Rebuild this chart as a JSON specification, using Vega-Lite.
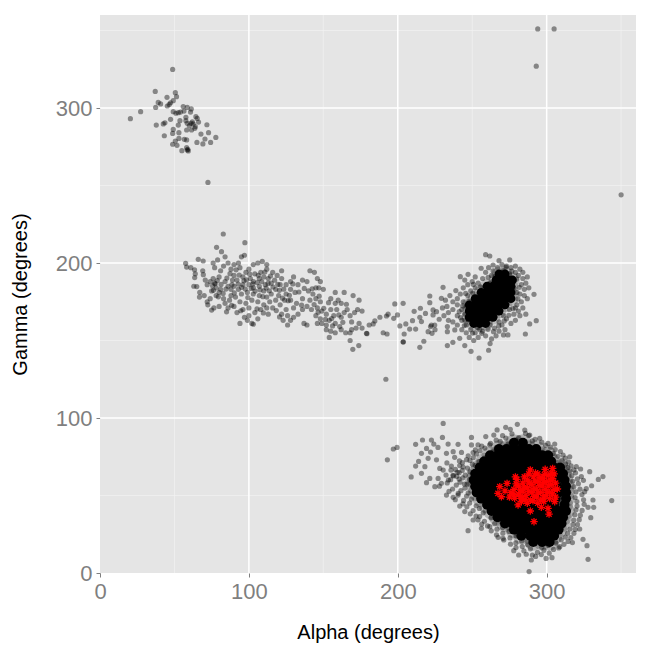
{"$schema":"https://vega.github.io/schema/vega-lite/v6.json","width":536,"height":558,"autosize":"none","padding":{"left":100,"top":15,"right":14,"bottom":77},"background":"white","config":{"view":{"fill":"#e5e5e5","stroke":null},"font":"Liberation Sans"},
"datasets":{
"gridMinor":[{"v":50},{"v":150},{"v":250},{"v":350}],
"gridMajor":[{"v":100},{"v":200},{"v":300}],
"coreA":[{"a":278,"g":84},{"a":284,"g":84},{"a":268,"g":80},{"a":273,"g":80},{"a":278,"g":80},{"a":283,"g":80},{"a":288,"g":80},{"a":293,"g":80},{"a":262,"g":76},{"a":267,"g":76},{"a":272,"g":76},{"a":277,"g":76},{"a":282,"g":76},{"a":287,"g":76},{"a":292,"g":76},{"a":297,"g":76},{"a":301,"g":76},{"a":258,"g":72},{"a":263,"g":72},{"a":268,"g":72},{"a":273,"g":72},{"a":278,"g":72},{"a":283,"g":72},{"a":288,"g":72},{"a":293,"g":72},{"a":298,"g":72},{"a":303,"g":72},{"a":255,"g":68},{"a":260,"g":68},{"a":265,"g":68},{"a":270,"g":68},{"a":275,"g":68},{"a":280,"g":68},{"a":285,"g":68},{"a":290,"g":68},{"a":295,"g":68},{"a":300,"g":68},{"a":305,"g":68},{"a":309,"g":68},{"a":252,"g":64},{"a":257,"g":64},{"a":262,"g":64},{"a":267,"g":64},{"a":272,"g":64},{"a":277,"g":64},{"a":282,"g":64},{"a":287,"g":64},{"a":292,"g":64},{"a":297,"g":64},{"a":302,"g":64},{"a":307,"g":64},{"a":311,"g":64},{"a":251,"g":60},{"a":256,"g":60},{"a":261,"g":60},{"a":266,"g":60},{"a":271,"g":60},{"a":276,"g":60},{"a":281,"g":60},{"a":286,"g":60},{"a":291,"g":60},{"a":296,"g":60},{"a":301,"g":60},{"a":306,"g":60},{"a":312,"g":60},{"a":252,"g":56},{"a":257,"g":56},{"a":262,"g":56},{"a":267,"g":56},{"a":272,"g":56},{"a":277,"g":56},{"a":282,"g":56},{"a":287,"g":56},{"a":292,"g":56},{"a":297,"g":56},{"a":302,"g":56},{"a":307,"g":56},{"a":313,"g":56},{"a":253,"g":52},{"a":258,"g":52},{"a":263,"g":52},{"a":268,"g":52},{"a":273,"g":52},{"a":278,"g":52},{"a":283,"g":52},{"a":288,"g":52},{"a":293,"g":52},{"a":298,"g":52},{"a":303,"g":52},{"a":308,"g":52},{"a":313,"g":52},{"a":256,"g":48},{"a":261,"g":48},{"a":266,"g":48},{"a":271,"g":48},{"a":276,"g":48},{"a":281,"g":48},{"a":286,"g":48},{"a":291,"g":48},{"a":296,"g":48},{"a":301,"g":48},{"a":306,"g":48},{"a":313,"g":48},{"a":260,"g":44},{"a":265,"g":44},{"a":270,"g":44},{"a":275,"g":44},{"a":280,"g":44},{"a":285,"g":44},{"a":290,"g":44},{"a":295,"g":44},{"a":300,"g":44},{"a":305,"g":44},{"a":312,"g":44},{"a":263,"g":40},{"a":268,"g":40},{"a":273,"g":40},{"a":278,"g":40},{"a":283,"g":40},{"a":288,"g":40},{"a":293,"g":40},{"a":298,"g":40},{"a":303,"g":40},{"a":308,"g":40},{"a":313,"g":40},{"a":267,"g":36},{"a":272,"g":36},{"a":277,"g":36},{"a":282,"g":36},{"a":287,"g":36},{"a":292,"g":36},{"a":297,"g":36},{"a":302,"g":36},{"a":307,"g":36},{"a":311,"g":36},{"a":272,"g":32},{"a":277,"g":32},{"a":282,"g":32},{"a":287,"g":32},{"a":292,"g":32},{"a":297,"g":32},{"a":302,"g":32},{"a":307,"g":32},{"a":310,"g":32},{"a":278,"g":28},{"a":283,"g":28},{"a":288,"g":28},{"a":293,"g":28},{"a":298,"g":28},{"a":303,"g":28},{"a":308,"g":28},{"a":283,"g":24},{"a":289,"g":24},{"a":294,"g":24},{"a":299,"g":24},{"a":305,"g":24},{"a":291,"g":20},{"a":297,"g":20},{"a":302,"g":20}],
"coreB":[{"a":268,"g":193},{"a":272,"g":193},{"a":266,"g":189},{"a":270,"g":189},{"a":274,"g":189},{"a":277,"g":189},{"a":260,"g":185},{"a":264,"g":185},{"a":268,"g":185},{"a":272,"g":185},{"a":276,"g":185},{"a":256,"g":181},{"a":260,"g":181},{"a":264,"g":181},{"a":268,"g":181},{"a":272,"g":181},{"a":276,"g":181},{"a":252,"g":177},{"a":256,"g":177},{"a":260,"g":177},{"a":264,"g":177},{"a":268,"g":177},{"a":272,"g":177},{"a":276,"g":177},{"a":248,"g":173},{"a":252,"g":173},{"a":256,"g":173},{"a":260,"g":173},{"a":264,"g":173},{"a":268,"g":173},{"a":272,"g":173},{"a":248,"g":169},{"a":252,"g":169},{"a":256,"g":169},{"a":260,"g":169},{"a":264,"g":169},{"a":268,"g":169},{"a":248,"g":165},{"a":252,"g":165},{"a":256,"g":165},{"a":260,"g":165},{"a":264,"g":165},{"a":251,"g":161},{"a":255,"g":161},{"a":259,"g":161}],
"points":[
{"a":294,"g":351},{"a":305,"g":351},{"a":293,"g":327},{"a":350,"g":244},{"a":192,"g":125},{"a":72.5,"g":252},
{"a":48.8,"g":324.9},{"a":37.1,"g":310.7},{"a":50.6,"g":309.9},{"a":45,"g":306.9},{"a":51.4,"g":307.3},{"a":39.1,"g":303.6},{"a":40.7,"g":302.6},{"a":49.2,"g":304.7},{"a":47.4,"g":303.4},{"a":46.5,"g":302.3},{"a":45.2,"g":301.3},{"a":37.4,"g":300.4},{"a":27.3,"g":297.6},{"a":20.4,"g":293.1},{"a":55.9,"g":300.9},{"a":58.6,"g":300.4},{"a":61.3,"g":299.4},{"a":60.8,"g":297.4},{"a":49.2,"g":297.6},{"a":51,"g":296.6},{"a":52.6,"g":297},{"a":54.1,"g":297.4},{"a":56.4,"g":298},{"a":64.4,"g":294.4},{"a":65.3,"g":293.3},{"a":57.7,"g":294},{"a":47.4,"g":292.7},{"a":43.6,"g":290.5},{"a":42.5,"g":289.7},{"a":37.8,"g":289},{"a":53.7,"g":291.8},{"a":57.7,"g":291.8},{"a":58.6,"g":290.1},{"a":61.1,"g":290.1},{"a":62.6,"g":289.7},{"a":66.2,"g":290.9},{"a":71.8,"g":289.2},{"a":52.6,"g":289},{"a":49.2,"g":286.2},{"a":48.8,"g":283.6},{"a":53,"g":284.1},{"a":58.2,"g":285.8},{"a":61.5,"g":285.8},{"a":63.7,"g":286.9},{"a":67.8,"g":283.2},{"a":72.9,"g":284.1},{"a":43.2,"g":282.1},{"a":53,"g":280.4},{"a":56.6,"g":279.8},{"a":58.2,"g":279.4},{"a":77.8,"g":281},{"a":70.5,"g":280},{"a":65.1,"g":277.8},{"a":69.1,"g":276.8},{"a":74.3,"g":277.8},{"a":50.6,"g":278.7},{"a":48.8,"g":276.6},{"a":51.7,"g":275.9},{"a":58.2,"g":274.4},{"a":58.6,"g":272.9},{"a":55,"g":272.5},{"a":59.3,"g":272.3},{"a":59,"g":273.4},{"a":62,"g":291},{"a":60,"g":288.5},{"a":64,"g":288},
{"a":82.8,"g":218.7},{"a":97.3,"g":213.1},{"a":78.3,"g":210.1},{"a":81.6,"g":207.3},{"a":57.5,"g":199.8},{"a":66,"g":202.4},{"a":69.3,"g":201.3},{"a":58.2,"g":197.4},{"a":61,"g":197},{"a":63.5,"g":195.6},{"a":64,"g":193},{"a":63.6,"g":190.6},{"a":69,"g":195},{"a":69.4,"g":192.5},{"a":70.7,"g":189},{"a":63,"g":185},{"a":65,"g":184.8},{"a":72,"g":186},{"a":74,"g":188},{"a":76,"g":190},{"a":77,"g":187},{"a":78,"g":184},{"a":75,"g":182},{"a":67,"g":181},{"a":66.8,"g":178},{"a":70,"g":179},{"a":74,"g":177},{"a":78,"g":179},{"a":72,"g":175},{"a":72.4,"g":173},{"a":76.5,"g":171},{"a":75,"g":169.6},{"a":80,"g":172},{"a":84,"g":174},{"a":83,"g":177},{"a":87,"g":176},{"a":88,"g":179},{"a":80,"g":181},{"a":81,"g":183},{"a":86,"g":185},{"a":88,"g":183},{"a":84,"g":188},{"a":80,"g":191},{"a":81,"g":195},{"a":77,"g":197},{"a":76,"g":200},{"a":79,"g":202},{"a":84,"g":204},{"a":86,"g":200},{"a":83,"g":198},{"a":88,"g":196},{"a":90,"g":199},{"a":93,"g":200},{"a":95,"g":204},{"a":97,"g":205},{"a":94,"g":197},{"a":90,"g":192},{"a":92,"g":189},{"a":96,"g":191},{"a":98,"g":194},{"a":100,"g":196},{"a":103,"g":199},{"a":106,"g":200},{"a":109,"g":201},{"a":112,"g":199},{"a":112,"g":196},{"a":108,"g":194},{"a":104,"g":193},{"a":101,"g":190},{"a":103,"g":188},{"a":107,"g":190},{"a":110,"g":191},{"a":113,"g":190},{"a":115,"g":187},{"a":111,"g":186},{"a":107,"g":185},{"a":103,"g":184},{"a":100,"g":186},{"a":96,"g":186},{"a":93,"g":183},{"a":90,"g":185},{"a":89,"g":189},{"a":91,"g":178},{"a":95,"g":180},{"a":99,"g":181},{"a":103,"g":180},{"a":107,"g":179},{"a":110,"g":182},{"a":112,"g":178},{"a":115,"g":180},{"a":118,"g":183},{"a":121,"g":186},{"a":120,"g":179},{"a":118,"g":176},{"a":114,"g":175},{"a":110,"g":173},{"a":106,"g":175},{"a":102,"g":176},{"a":98,"g":174},{"a":94,"g":175},{"a":90,"g":172},{"a":86,"g":171},{"a":92,"g":168},{"a":96,"g":170},{"a":100,"g":171},{"a":104,"g":168},{"a":100,"g":166},{"a":97,"g":165},{"a":102,"g":161},{"a":103,"g":160.5},{"a":94,"g":161},{"a":106,"g":164},{"a":112,"g":171},{"a":108,"g":170},{"a":113,"g":167},{"a":116,"g":171},{"a":121,"g":173},{"a":124,"g":176},{"a":125,"g":180},{"a":128,"g":183},{"a":125,"g":186},{"a":128,"g":188},{"a":122,"g":190},{"a":119,"g":192},{"a":116,"g":194},{"a":122,"g":195},{"a":130,"g":191},{"a":133,"g":186},{"a":136,"g":189},{"a":139,"g":188},{"a":141,"g":195},{"a":144,"g":194},{"a":146,"g":190},{"a":148,"g":188},{"a":147,"g":184},{"a":145,"g":184},{"a":150,"g":183},{"a":131,"g":181},{"a":128,"g":176},{"a":132,"g":174},{"a":136,"g":177},{"a":130,"g":171},{"a":125,"g":170},{"a":122,"g":167},{"a":126,"g":166},{"a":130,"g":165},{"a":133,"g":167},{"a":123,"g":163},{"a":126,"g":160},{"a":128,"g":163},{"a":137,"g":161},{"a":136,"g":170},{"a":139,"g":172},{"a":141,"g":176},{"a":143,"g":180},{"a":140,"g":182},{"a":145,"g":177},{"a":148,"g":175},{"a":142,"g":170},{"a":146,"g":171},{"a":149,"g":169},{"a":145,"g":166},{"a":148,"g":164},{"a":152,"g":167},{"a":154,"g":163},{"a":152,"g":160},{"a":146,"g":161},{"a":149,"g":161},{"a":155,"g":170},{"a":157,"g":166},{"a":159,"g":170},{"a":162,"g":165},{"a":158,"g":161},{"a":161,"g":159},{"a":162,"g":174},{"a":166,"g":170},{"a":164,"g":168},{"a":168,"g":166},{"a":171,"g":168},{"a":173,"g":170},{"a":176,"g":169},{"a":169,"g":162},{"a":174,"g":161},{"a":176,"g":158},{"a":172,"g":158},{"a":169,"g":157},{"a":158,"g":174},{"a":155,"g":177},{"a":158,"g":181},{"a":164,"g":181},{"a":170,"g":179},{"a":174,"g":176},{"a":160,"g":176},{"a":139,"g":160},{"a":152,"g":157},{"a":155,"g":156},{"a":158,"g":155},{"a":162,"g":157},{"a":165,"g":155},{"a":168,"g":155},{"a":154,"g":152},
{"a":75.6,"g":185.3},{"a":76.2,"g":182.4},{"a":77.4,"g":186.6},{"a":78.8,"g":188.7},{"a":79.5,"g":178.2},{"a":81.3,"g":186.2},{"a":82.7,"g":180.4},{"a":84.6,"g":183.2},{"a":85.2,"g":190.3},{"a":87.3,"g":193.1},{"a":88.6,"g":186.1},{"a":90.2,"g":180.7},{"a":91.4,"g":195.6},{"a":92.8,"g":186.4},{"a":93.5,"g":192.2},{"a":95.1,"g":184.3},{"a":96.7,"g":188.5},{"a":97.6,"g":183.2},{"a":98.4,"g":189.1},{"a":99.3,"g":177.7},{"a":100.6,"g":192.8},{"a":101.5,"g":183.6},{"a":102.7,"g":186.5},{"a":104.2,"g":181.9},{"a":105.6,"g":187.4},{"a":106.3,"g":192.1},{"a":107.5,"g":182.7},{"a":108.6,"g":188},{"a":109.4,"g":178.3},{"a":110.7,"g":194.2},{"a":111.6,"g":183.8},{"a":112.9,"g":186.8},{"a":113.7,"g":182.1},{"a":114.5,"g":191.6},{"a":116.2,"g":184.5},{"a":117.3,"g":188.9},{"a":119.4,"g":186.2},{"a":120.5,"g":182.4},{"a":122.6,"g":177.3},{"a":123.4,"g":183.1},{"a":126.4,"g":175.7},{"a":127.2,"g":179.2},{"a":129.5,"g":186.5},{"a":133.6,"g":181.3},{"a":135.4,"g":172.8},{"a":137.2,"g":183.6},{"a":142.5,"g":183.4},{"a":143.8,"g":173.2},{"a":146.5,"g":168.3},{"a":147.2,"g":178.6},{"a":150.3,"g":170.8},{"a":151.4,"g":163.6},{"a":153.5,"g":174.4},{"a":155.6,"g":164.2},{"a":156.2,"g":159.4},{"a":160.4,"g":166.5},{"a":163.1,"g":161.7},{"a":165.5,"g":173.4},{"a":88.4,"g":172.7},{"a":94.6,"g":169.2},{"a":105.4,"g":170.4},{"a":109.7,"g":167.8},{"a":118.4,"g":169.3},{"a":120.6,"g":165.2},{"a":99,"g":163},{"a":85,"g":168.5},
{"a":198,"g":173.6},{"a":203.6,"g":174},{"a":193.5,"g":167},{"a":188,"g":165},{"a":199.8,"g":166.5},{"a":197.3,"g":164.3},{"a":192.4,"g":165.8},{"a":184.6,"g":162.6},{"a":180.8,"g":160},{"a":183.5,"g":160.7},{"a":190.2,"g":155},{"a":192.8,"g":154.2},{"a":179,"g":154.6},{"a":179.3,"g":154.4},{"a":168,"g":150},{"a":173.8,"g":146.7},{"a":169.8,"g":144.3},{"a":201.4,"g":159.4},{"a":204.3,"g":154.2},{"a":203.6,"g":149},{"a":203.7,"g":149.2},{"a":214.8,"g":145.6},{"a":217.5,"g":149.5},{"a":205.4,"g":160.7},{"a":208,"g":157.4},{"a":212,"g":157.4},{"a":209.9,"g":162.8},{"a":211,"g":168.8},{"a":215.2,"g":170.8},{"a":214.8,"g":165},{"a":218.6,"g":167.5},{"a":215.9,"g":162.2},{"a":220.4,"g":155.7},{"a":223,"g":154.6},{"a":222.6,"g":160},{"a":224.8,"g":160},{"a":223.7,"g":169.7},{"a":226,"g":168.6},{"a":223.7,"g":166.5},{"a":227.8,"g":163.7},{"a":233.3,"g":159},{"a":233.3,"g":155.7},{"a":238.3,"g":156.8},{"a":221.5,"g":178.7},{"a":221.5,"g":174.4},{"a":222,"g":159},{"a":225,"g":157},
{"a":259,"g":205.4},{"a":261.8,"g":204.5},{"a":268,"g":201.5},{"a":275.2,"g":202},{"a":291.5,"g":179.8},{"a":293,"g":162.8},{"a":288.6,"g":160.7},{"a":285.7,"g":154.2},{"a":274,"g":153.6},{"a":271,"g":153.6},{"a":261,"g":143.7},{"a":254.6,"g":138.7},{"a":249.2,"g":143},{"a":245,"g":146.7},{"a":237,"g":148.8},{"a":233.3,"g":146.7},{"a":241.6,"g":151.4},{"a":230.4,"g":184.3},{"a":229.3,"g":177.2},{"a":239,"g":182.2},{"a":242,"g":191.2},{"a":247.2,"g":192.7},{"a":245,"g":189},{"a":256,"g":196.6},{"a":264,"g":198.7},
{"a":232,"g":176},{"a":235,"g":179},{"a":237,"g":175},{"a":240,"g":177},{"a":242,"g":180},{"a":244,"g":184},{"a":247,"g":186},{"a":250,"g":188},{"a":252,"g":191},{"a":254,"g":187},{"a":257,"g":190},{"a":259,"g":194},{"a":261,"g":197},{"a":264,"g":195},{"a":267,"g":197},{"a":270,"g":199},{"a":273,"g":198},{"a":276,"g":197},{"a":279,"g":198},{"a":282,"g":196},{"a":284,"g":194},{"a":281,"g":192},{"a":284,"g":190},{"a":287,"g":191},{"a":286,"g":187},{"a":283,"g":186},{"a":285,"g":183},{"a":288,"g":184},{"a":282,"g":180},{"a":285,"g":179},{"a":287,"g":177},{"a":283,"g":175},{"a":280,"g":173},{"a":284,"g":171},{"a":281,"g":169},{"a":278,"g":167},{"a":282,"g":166},{"a":286,"g":167},{"a":279,"g":163},{"a":276,"g":161},{"a":273,"g":164},{"a":270,"g":160},{"a":272,"g":157},{"a":268,"g":156},{"a":265,"g":158},{"a":266,"g":153},{"a":263,"g":151},{"a":262,"g":148},{"a":259,"g":153},{"a":257,"g":156},{"a":254,"g":152},{"a":251,"g":150},{"a":248,"g":152},{"a":246,"g":155},{"a":243,"g":157},{"a":240,"g":160},{"a":237,"g":162},{"a":234,"g":163},{"a":231,"g":166},{"a":234,"g":168},{"a":230,"g":171},{"a":233,"g":172},{"a":237,"g":170},{"a":240,"g":166},{"a":243,"g":163},{"a":246,"g":160},{"a":249,"g":157},{"a":252,"g":155},{"a":255,"g":157},{"a":243,"g":170},{"a":240,"g":173},{"a":244,"g":175},{"a":247,"g":179},{"a":249,"g":182},{"a":252,"g":184},{"a":245,"g":167},{"a":246,"g":172},{"a":263,"g":192},{"a":267,"g":193},{"a":271,"g":195},{"a":275,"g":193},{"a":279,"g":194},{"a":262,"g":187},{"a":278,"g":184},{"a":280,"g":181},{"a":277,"g":177},{"a":279,"g":171},{"a":275,"g":170},{"a":271,"g":166},{"a":268,"g":162},{"a":262,"g":160},{"a":245,"g":163},{"a":241.3,"g":168.6},{"a":243.6,"g":172.4},{"a":242.2,"g":164.8},{"a":244.7,"g":159.6},{"a":247.4,"g":163.2},{"a":250.2,"g":154.8},{"a":253.7,"g":158.3},{"a":256.4,"g":154.6},{"a":260.6,"g":157.2},{"a":264.3,"g":155.7},{"a":267.8,"g":159.4},{"a":271.5,"g":162.6},{"a":274.6,"g":166.3},{"a":277.4,"g":170.6},{"a":280.7,"g":176.8},{"a":281.6,"g":184.3},{"a":279.8,"g":189.6},{"a":276.6,"g":194.7},{"a":272.7,"g":197.2},{"a":265.6,"g":191.4},{"a":260.7,"g":190.8},{"a":255.6,"g":184.6},{"a":250.3,"g":180.6},{"a":247.7,"g":175.2},{"a":245.6,"g":180.4},{"a":250.8,"g":186.2},
{"a":230.5,"g":96.5},{"a":230,"g":87.5},{"a":216.6,"g":85.8},{"a":222.6,"g":85.8},{"a":224.2,"g":83.2},{"a":219.3,"g":80.4},{"a":215.9,"g":77.2},{"a":233.8,"g":83.2},{"a":240.5,"g":83},{"a":232.7,"g":77.2},{"a":237.2,"g":78.3},{"a":242.8,"g":77.8},{"a":220.4,"g":74},{"a":218.2,"g":68.6},{"a":228.2,"g":67.5},{"a":230.5,"g":66.4},{"a":215.9,"g":64.3},{"a":221.5,"g":61},{"a":227.1,"g":61},{"a":219.3,"g":58.3},{"a":224.9,"g":55.7},{"a":229.3,"g":57.9},{"a":232.7,"g":50.3},{"a":237.2,"g":48.8},{"a":240.5,"g":50.3},{"a":241.6,"g":43.2},{"a":245,"g":39.6},{"a":250.6,"g":34.2},{"a":247.2,"g":27.3},{"a":256.2,"g":28.8},{"a":255,"g":36.4},{"a":261.8,"g":29.9},{"a":267.4,"g":23},{"a":270.7,"g":22.4},{"a":277.9,"g":14.4},{"a":281.2,"g":11.6},{"a":289.7,"g":8.4},{"a":290.4,"g":11.6},{"a":288.2,"g":0.9},{"a":303.6,"g":9.9},{"a":327.8,"g":8.8},{"a":327.1,"g":17.6},{"a":324.4,"g":21.7},{"a":317.3,"g":19.6},{"a":308.8,"g":17},{"a":322.2,"g":28.4},{"a":329.6,"g":35.7},{"a":327.8,"g":42.4},{"a":331.6,"g":42.4},{"a":331.1,"g":47.1},{"a":343.7,"g":46.7},{"a":337.8,"g":62.2},{"a":334.7,"g":60.4},{"a":330.2,"g":56.3},{"a":328.9,"g":65.4},{"a":323.3,"g":62.2},{"a":325.5,"g":52.5},{"a":319.9,"g":68.6},{"a":315.5,"g":75},{"a":311,"g":76.1},{"a":305.4,"g":83.2},{"a":300.9,"g":83.6},{"a":295.3,"g":86.9},{"a":288.6,"g":89},{"a":285.3,"g":92.2},{"a":280.3,"g":95.9},{"a":275.6,"g":92.7},{"a":272.5,"g":94},{"a":266.7,"g":92.3},{"a":264.5,"g":89},{"a":259.1,"g":88},{"a":249.5,"g":87.5},{"a":249.5,"g":82.6},{"a":253.9,"g":82.6},{"a":193,"g":73},{"a":197,"g":80},{"a":199.5,"g":81},{"a":212,"g":83},{"a":214,"g":72},{"a":209,"g":62},{"a":212,"g":69},{"a":226,"g":73},{"a":233,"g":71},{"a":236,"g":69},{"a":222,"g":78},{"a":227,"g":81},{"a":228,"g":56},{"a":234,"g":60},{"a":237,"g":63},{"a":240,"g":65},{"a":238.2,"g":74.6},{"a":241.4,"g":72.3},{"a":239.6,"g":62.4},{"a":243.3,"g":66.2},{"a":235.7,"g":66.4},{"a":232.4,"g":63.2},{"a":244.8,"g":57.4},{"a":241.2,"g":60.6},
{"a":270.4,"g":88.6},{"a":276.7,"g":89.8},{"a":281.3,"g":87.4},{"a":287.9,"g":88.7},{"a":292.2,"g":86.3},{"a":266.1,"g":85.7},{"a":272.6,"g":87.1},{"a":279.2,"g":85.9},{"a":285.8,"g":90.1},{"a":290.4,"g":85.2},{"a":296.7,"g":84.4},{"a":262.3,"g":83.6},{"a":268.8,"g":84.9},{"a":274.1,"g":83.2},{"a":299.3,"g":82.4},{"a":256.4,"g":81.8},{"a":261.7,"g":82.7},{"a":266.2,"g":80.9},{"a":302.6,"g":81.2},{"a":252.1,"g":79.4},{"a":258.5,"g":80.6},{"a":264.3,"g":78.2},{"a":305.7,"g":79.6},{"a":250.6,"g":77.7},{"a":255.2,"g":78.9},{"a":260.4,"g":76.3},{"a":304.4,"g":77.1},{"a":309.2,"g":78.4},{"a":247.3,"g":75.6},{"a":252.8,"g":76.8},{"a":258.1,"g":74.2},{"a":307.6,"g":75.3},{"a":312.5,"g":74.1},{"a":246.2,"g":73.1},{"a":250.7,"g":74.4},{"a":254.6,"g":71.8},{"a":310.3,"g":72.7},{"a":314.8,"g":71.6},{"a":243.4,"g":71.2},{"a":248.5,"g":72.6},{"a":252.2,"g":69.5},{"a":312.7,"g":70.4},{"a":316.4,"g":69.2},{"a":241.6,"g":69.3},{"a":246.8,"g":67.7},{"a":250.1,"g":70.2},{"a":314.2,"g":68.1},{"a":318.3,"g":66.5},{"a":238.7,"g":66.8},{"a":243.9,"g":68.4},{"a":248.6,"g":65.3},{"a":315.6,"g":65.9},{"a":319.4,"g":64.6},{"a":322.8,"g":67.1},{"a":241.2,"g":64.7},{"a":245.3,"g":63.1},{"a":316.9,"g":62.8},{"a":320.6,"g":60.7},{"a":237.4,"g":62.6},{"a":243.7,"g":61.4},{"a":248.2,"g":60.3},{"a":317.5,"g":59.2},{"a":321.3,"g":57.6},{"a":324.7,"g":59.8},{"a":235.5,"g":60.2},{"a":241.8,"g":58.6},{"a":246.6,"g":57.3},{"a":318.2,"g":55.7},{"a":322.4,"g":54.1},{"a":233.2,"g":58.1},{"a":239.3,"g":56.7},{"a":245.1,"g":54.8},{"a":319.6,"g":52.3},{"a":323.7,"g":50.6},{"a":326.6,"g":54.4},{"a":236.8,"g":54.2},{"a":242.4,"g":53.1},{"a":247.3,"g":51.6},{"a":319.1,"g":48.7},{"a":324.8,"g":47.2},{"a":234.4,"g":52.7},{"a":240.6,"g":51.4},{"a":246.2,"g":49.6},{"a":320.3,"g":46.1},{"a":325.2,"g":44.3},{"a":238.6,"g":47.3},{"a":244.2,"g":46.8},{"a":249.4,"g":47.7},{"a":320.4,"g":43.2},{"a":323.8,"g":40.4},{"a":243.8,"g":44.6},{"a":248.3,"g":45.1},{"a":252.7,"g":43.4},{"a":319.7,"g":40.8},{"a":322.6,"g":37.3},{"a":246.4,"g":42.7},{"a":250.6,"g":40.3},{"a":254.8,"g":41.6},{"a":318.9,"g":37.6},{"a":321.9,"g":34.4},{"a":248.7,"g":38.2},{"a":252.6,"g":36.7},{"a":257.4,"g":38.8},{"a":318.2,"g":34.1},{"a":320.7,"g":31.3},{"a":253.9,"g":34.3},{"a":258.2,"g":33.4},{"a":262.6,"g":35.6},{"a":317.6,"g":31.2},{"a":319.2,"g":28.1},{"a":256.4,"g":31.6},{"a":260.3,"g":30.4},{"a":265.1,"g":31.8},{"a":315.7,"g":28.4},{"a":318.3,"g":25.6},{"a":262.8,"g":27.2},{"a":266.6,"g":28.3},{"a":270.4,"g":29.4},{"a":314.1,"g":25.7},{"a":316.2,"g":22.8},{"a":266.3,"g":24.6},{"a":270.6,"g":25.7},{"a":274.8,"g":26.8},{"a":312.6,"g":23.2},{"a":314.4,"g":20.4},{"a":271.2,"g":21.3},{"a":275.4,"g":22.6},{"a":279.6,"g":23.8},{"a":309.8,"g":21.4},{"a":311.6,"g":18.5},{"a":275.7,"g":18.6},{"a":279.3,"g":19.4},{"a":283.2,"g":20.7},{"a":306.3,"g":19.3},{"a":308.1,"g":16.2},{"a":279.4,"g":16.4},{"a":283.6,"g":17.1},{"a":287.3,"g":18.2},{"a":296.7,"g":16.6},{"a":301.2,"g":17.8},{"a":304.6,"g":15.2},{"a":284.7,"g":14.3},{"a":289.1,"g":15.6},{"a":293.8,"g":13.4},{"a":298.2,"g":14.6},{"a":301.7,"g":12.8},{"a":286.3,"g":12.1},{"a":292.6,"g":10.7},{"a":296.4,"g":11.9},{"a":299.6,"g":9.4}
],
"stars":[{"a":289,"g":66.5},{"a":299,"g":66.9},{"a":304,"g":67.5},{"a":280,"g":60.4},{"a":268.5,"g":55.7},{"a":273.4,"g":57.8},{"a":267.3,"g":51.4},{"a":269.6,"g":49.2},{"a":278.5,"g":48.2},{"a":280.8,"g":43.9},{"a":305.4,"g":46},{"a":289,"g":40},{"a":296.4,"g":42.4},{"a":300.9,"g":41.7},{"a":301.6,"g":38},{"a":291.5,"g":33.1},{"a":307.2,"g":54.2},{"a":290.8,"g":46.6},{"a":276,"g":52},{"a":278,"g":54},{"a":281,"g":51},{"a":281,"g":56},{"a":283,"g":48},{"a":284,"g":53},{"a":284,"g":58},{"a":286,"g":50},{"a":287,"g":55},{"a":287,"g":60},{"a":289,"g":47},{"a":290,"g":52},{"a":290,"g":57},{"a":291,"g":62},{"a":293,"g":49},{"a":293,"g":54},{"a":294,"g":59},{"a":294,"g":64},{"a":296,"g":47},{"a":296,"g":52},{"a":297,"g":56},{"a":297,"g":61},{"a":299,"g":50},{"a":299,"g":54},{"a":300,"g":59},{"a":301,"g":63},{"a":302,"g":48},{"a":302,"g":52},{"a":303,"g":57},{"a":304,"g":61},{"a":305,"g":54},{"a":305,"g":64},{"a":272,"g":53},{"a":275,"g":49},{"a":279,"g":62},{"a":285,"g":62},{"a":288,"g":64},{"a":283,"g":46},{"a":287,"g":45},{"a":294,"g":45},{"a":298,"g":46},{"a":306,"g":58},{"a":306,"g":49},{"a":278,"g":50.5},{"a":279.5,"g":57.5},{"a":282.5,"g":53.5},{"a":282.5,"g":49.5},{"a":285,"g":55.5},{"a":285.5,"g":47.5},{"a":288,"g":52.5},{"a":288.5,"g":58},{"a":291.5,"g":49.5},{"a":291.5,"g":54.5},{"a":292,"g":59.5},{"a":294.5,"g":51.5},{"a":295,"g":56.5},{"a":295.5,"g":61.5},{"a":298,"g":48.5},{"a":298,"g":58.5},{"a":300.5,"g":52},{"a":301,"g":56},{"a":302.5,"g":60},{"a":304,"g":51},{"a":303,"g":64.5},{"a":298.5,"g":63.5},{"a":292.5,"g":64.5}]
},
"layer":[
{"data":{"name":"gridMinor"},"mark":{"type":"rule","color":"#f2f2f2","strokeWidth":0.7},"encoding":{"x":{"field":"v","type":"quantitative","scale":{"domain":[0,360],"nice":false,"zero":false},"axis":{"values":[0,100,200,300],"grid":false,"domain":false,"tickColor":"#7f7f7f","tickSize":4,"tickWidth":1,"labelColor":"#7f7f7f","labelFontSize":22,"labelFont":"Liberation Sans","labelPadding":4,"labelFlush":false,"title":"Alpha (degrees)","titleFont":"Liberation Sans","titleFontSize":20,"titleFontWeight":"normal","titleColor":"black","titlePadding":20}}}},
{"data":{"name":"gridMinor"},"mark":{"type":"rule","color":"#f2f2f2","strokeWidth":0.7},"encoding":{"y":{"field":"v","type":"quantitative","scale":{"domain":[0,360],"nice":false,"zero":false},"axis":{"values":[0,100,200,300],"grid":false,"domain":false,"tickColor":"#7f7f7f","tickSize":4,"tickWidth":1,"labelColor":"#7f7f7f","labelFontSize":22,"labelFont":"Liberation Sans","labelPadding":4,"labelFlush":false,"title":"Gamma (degrees)","titleFont":"Liberation Sans","titleFontSize":20,"titleFontWeight":"normal","titleColor":"black","titlePadding":25}}}},
{"data":{"name":"gridMajor"},"mark":{"type":"rule","color":"white","strokeWidth":1.5},"encoding":{"x":{"field":"v","type":"quantitative"}}},
{"data":{"name":"gridMajor"},"mark":{"type":"rule","color":"white","strokeWidth":1.5},"encoding":{"y":{"field":"v","type":"quantitative"}}},
{"data":{"name":"coreA"},"mark":{"type":"point","filled":true,"shape":"circle","color":"black","opacity":0.22,"size":300,"strokeWidth":0},"encoding":{"x":{"field":"a","type":"quantitative"},"y":{"field":"g","type":"quantitative"}}},
{"data":{"name":"coreB"},"mark":{"type":"point","filled":true,"shape":"circle","color":"black","opacity":0.18,"size":220,"strokeWidth":0},"encoding":{"x":{"field":"a","type":"quantitative"},"y":{"field":"g","type":"quantitative"}}},
{"data":{"name":"coreA"},"mark":{"type":"point","filled":true,"shape":"circle","color":"black","opacity":1,"size":100,"strokeWidth":0},"encoding":{"x":{"field":"a","type":"quantitative"},"y":{"field":"g","type":"quantitative"}}},
{"data":{"name":"coreB"},"mark":{"type":"point","filled":true,"shape":"circle","color":"black","opacity":1,"size":80,"strokeWidth":0},"encoding":{"x":{"field":"a","type":"quantitative"},"y":{"field":"g","type":"quantitative"}}},
{"data":{"name":"points"},"mark":{"type":"point","filled":true,"shape":"circle","color":"black","opacity":0.42,"size":27,"strokeWidth":0},"encoding":{"x":{"field":"a","type":"quantitative"},"y":{"field":"g","type":"quantitative"}}},
{"data":{"name":"stars"},"mark":{"type":"point","filled":false,"shape":"M-1,0L1,0M0,-1L0,1M-0.7,-0.7L0.7,0.7M-0.7,0.7L0.7,-0.7","color":"red","opacity":1,"size":56,"strokeWidth":1.3},"encoding":{"x":{"field":"a","type":"quantitative"},"y":{"field":"g","type":"quantitative"}}}
]}
